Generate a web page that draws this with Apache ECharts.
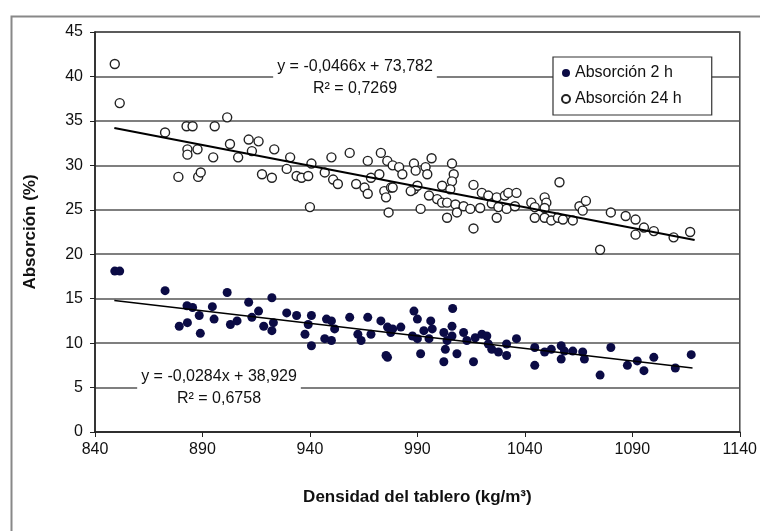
<!DOCTYPE html>
<html><head><meta charset="utf-8">
<script src="https://cdn.jsdelivr.net/npm/echarts@6/dist/echarts.min.js"></script>
<style>html,body{margin:0;padding:0;background:#fff}#c{width:760px;height:531px}</style>
</head><body><div id="c"></div>
<script>
const xTicks = [840, 890, 940, 990, 1040, 1090, 1140];
const yTicks = [0, 5, 10, 15, 20, 25, 30, 35, 40, 45];
const seriesNames = ['Absorción 2 h', 'Absorción 24 h'];
const eq2 = 'y = -0,0284x + 38,929\nR² = 0,6758';
const eq24 = 'y = -0,0466x + 73,782\nR² = 0,7269';

const abs24 = [[849.2,41.4],[851.5,37.0],[872.6,33.7],[882.6,34.4],[885.4,34.4],[895.7,34.4],[901.5,35.4],[883,31.8],[883,31.2],[887.7,31.8],[878.8,28.7],[888,28.7],[889.2,29.2],[895,30.9],[902.8,32.4],[906.6,30.9],[911.5,32.9],[916.1,32.7],[913,31.6],[917.7,29.0],[922.3,28.6],[923.4,31.8],[929.2,29.6],[930.8,30.9],[933.8,28.8],[936.1,28.6],[939.2,28.8],[940.7,30.2],[940,25.3],[946.9,29.2],[950,30.9],[950.8,28.4],[953,27.9],[958.5,31.4],[961.5,27.9],[965.4,27.5],[966.9,30.5],[968.4,28.6],[966.9,26.8],[973,31.4],[976,30.5],[972.3,29.0],[974.6,27.1],[975.4,26.4],[977.7,27.5],[976.6,24.7],[978.5,30.0],[978.5,27.5],[981.5,29.8],[983,29.0],[988.4,30.2],[989.2,29.4],[988.4,27.3],[993.8,29.8],[994.6,29.0],[996.6,30.8],[990,27.7],[986.9,27.1],[991.5,25.1],[995.4,26.6],[999.2,26.2],[1001.5,25.8],[1001.5,27.7],[1006.1,30.2],[1006.9,29.0],[1006.1,28.2],[1005.3,27.3],[1003.8,25.8],[1007.7,25.6],[1003.8,24.1],[1008.4,24.7],[1011.5,25.4],[1014.6,25.1],[1016.1,27.8],[1016.1,22.9],[1020,26.9],[1023,26.6],[1024.6,25.7],[1019.2,25.2],[1026.9,26.4],[1027.7,25.3],[1026.9,24.1],[1030.7,26.6],[1032.3,26.9],[1036.1,26.9],[1031.5,25.1],[1035.4,25.4],[1043,25.8],[1044.6,25.3],[1044.6,24.1],[1049.2,26.4],[1050,25.8],[1049.2,25.2],[1049.2,24.1],[1052.3,23.8],[1056.1,28.1],[1055.4,24.1],[1057.7,23.9],[1062.3,23.8],[1065.4,25.4],[1068.4,26.0],[1066.9,24.9],[1080,24.7],[1075,20.5],[1086.9,24.3],[1091.5,23.9],[1091.5,22.2],[1095.4,23.0],[1100,22.6],[1109.2,21.9],[1116.9,22.5]];

const abs2 = [[849.2,18.1],[851.5,18.1],[872.6,15.9],[882.8,14.2],[885.4,14.0],[879.2,11.9],[883,12.3],[888.5,13.1],[889,11.1],[894.6,14.1],[895.4,12.7],[901.5,15.7],[903,12.1],[906.1,12.5],[911.5,14.6],[916.1,13.6],[913,12.9],[918.5,11.9],[922.3,15.1],[923,12.3],[922.3,11.4],[929.2,13.4],[933.8,13.1],[937.7,11.0],[940.7,13.1],[940.7,9.7],[939.2,12.1],[947.7,12.7],[950,12.5],[951.5,11.6],[946.9,10.5],[950,10.3],[958.5,12.9],[966.9,12.9],[962.3,11.0],[963.8,10.3],[968.4,11.0],[973,12.5],[976.1,11.8],[977.6,11.2],[976.1,8.4],[975.4,8.6],[978.5,11.6],[982.3,11.8],[988.4,13.6],[990,12.7],[987.7,10.8],[990,10.5],[991.5,8.8],[993,11.4],[996.2,12.5],[996.9,11.6],[995.4,10.5],[1002.3,11.2],[1003.8,10.3],[1003,9.3],[1002.3,7.9],[1006.4,13.9],[1006.1,11.9],[1006.1,10.8],[1008.4,8.8],[1011.5,11.2],[1013,10.3],[1016.1,7.9],[1016.9,10.6],[1020,11.0],[1022.3,10.8],[1023,9.9],[1024.6,9.3],[1027.7,9.0],[1031.5,8.6],[1031.5,9.9],[1036.1,10.5],[1044.6,9.5],[1044.6,7.5],[1049.2,9.0],[1052.3,9.3],[1056.9,9.7],[1056.9,8.2],[1058.4,9.1],[1062.3,9.1],[1066.9,9.0],[1067.7,8.2],[1080,9.5],[1075,6.4],[1087.7,7.5],[1092.3,8.0],[1095.4,6.9],[1100,8.4],[1110,7.2],[1117.4,8.7]];

const trend24 = [[849, 34.2], [1119, 21.6]];
const trend2 = [[849, 14.8], [1118, 7.2]];

const FONT = '"Liberation Sans", Arial, sans-serif';
const chart = echarts.init(document.getElementById('c'), null, {renderer: 'canvas'});
chart.setOption({
  animation: false,
  backgroundColor: '#fff',
  textStyle: {fontFamily: FONT},
  grid: {left: 95, right: 15, top: 32, bottom: 99, show: true, borderColor: '#444', borderWidth: 1.5, backgroundColor: 'transparent'},
  legend: {
    orient: 'vertical', left: 553, top: 57,
    padding: [8, 30, 8, 8], itemGap: 10,
    backgroundColor: '#fff', borderColor: '#333', borderWidth: 1.2,
    itemWidth: 8, itemHeight: 8,
    textStyle: {fontSize: 16, color: '#111', fontFamily: FONT},
    data: [{name: seriesNames[0], icon: 'circle'}, {name: seriesNames[1], icon: 'circle'}]
  },
  xAxis: {
    type: 'value', min: xTicks[0], max: xTicks[xTicks.length - 1], interval: 50,
    name: 'Densidad del tablero (kg/m³)', nameLocation: 'middle', nameGap: 57,
    nameTextStyle: {fontSize: 17, fontWeight: 'bold', color: '#111', fontFamily: FONT},
    axisLine: {lineStyle: {color: '#222', width: 1.5}},
    axisTick: {show: true, length: 5, lineStyle: {color: '#222'}},
    axisLabel: {fontSize: 16, color: '#111', margin: 10, fontFamily: FONT, formatter: v => String(v)},
    splitLine: {show: false}
  },
  yAxis: {
    type: 'value', min: yTicks[0], max: yTicks[yTicks.length - 1], interval: 5,
    name: 'Absorción (%)', nameLocation: 'middle', nameGap: 56,
    nameTextStyle: {fontSize: 17, fontWeight: 'bold', color: '#111', fontFamily: FONT},
    axisLine: {show: true, lineStyle: {color: '#222', width: 1.5}},
    axisTick: {show: true, length: 5, lineStyle: {color: '#222'}},
    axisLabel: {fontSize: 16, color: '#111', margin: 12, fontFamily: FONT, formatter: v => String(v)},
    splitLine: {show: true, lineStyle: {color: '#555', width: 1.5}}
  },
  series: [
    {name: seriesNames[0], type: 'scatter', data: abs2, symbol: 'circle', symbolSize: 9,
     itemStyle: {color: '#0b0b45', opacity: 1}, z: 3},
    {name: seriesNames[1], type: 'scatter', data: abs24, symbol: 'circle', symbolSize: 9,
     itemStyle: {color: '#fff', borderColor: '#222', borderWidth: 1.4, opacity: 1}, z: 3},
    {name: 'trend24', type: 'line', data: trend24, symbol: 'none', lineStyle: {color: '#000', width: 2}, z: 4, silent: true},
    {name: 'trend2', type: 'line', data: trend2, symbol: 'none', lineStyle: {color: '#000', width: 1.5}, z: 4, silent: true}
  ],
  graphic: [
    {type: 'rect', left: 9, top: 14, shape: {width: 760, height: 530}, style: {fill: 'none', stroke: '#888', lineWidth: 2}, z: 0, silent: true},
    {type: 'text', x: 355, y: 56, z: 10, style: {text: eq24, align: 'center', fontSize: 16, lineHeight: 22, fill: '#111', fontFamily: FONT, backgroundColor: '#fff', padding: [0, 4]}},
    {type: 'text', x: 219, y: 366, z: 10, style: {text: eq2, align: 'center', fontSize: 16, lineHeight: 22, fill: '#111', fontFamily: FONT, backgroundColor: '#fff', padding: [0, 4]}}
  ]
});
</script></body></html>
